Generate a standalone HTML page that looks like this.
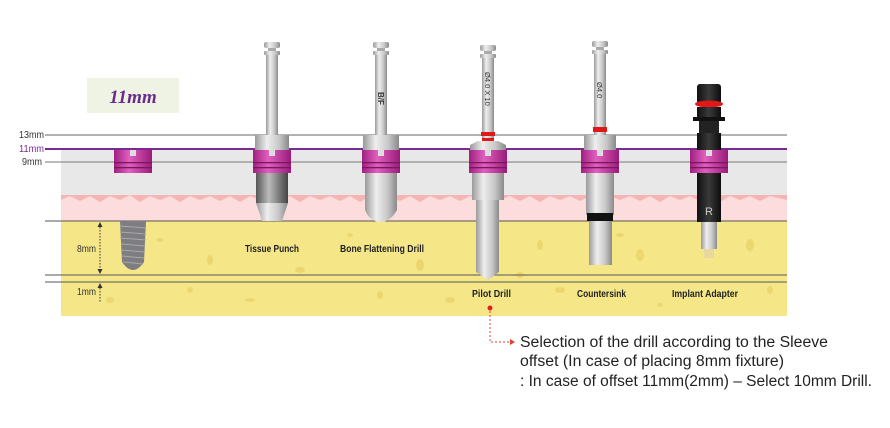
<!DOCTYPE html>
<html><head><meta charset="utf-8"><style>
html,body{margin:0;padding:0;background:#fff;}
svg{display:block;}
.lb{font-family:"Liberation Sans",sans-serif;font-size:10.5px;font-weight:bold;fill:#222;}
.mm{font-family:"Liberation Sans",sans-serif;font-size:10px;fill:#333;}
</style></head><body>
<svg width="890" height="428" viewBox="0 0 890 428" xmlns="http://www.w3.org/2000/svg">
<defs>
<linearGradient id="met" x1="0" x2="1"><stop offset="0" stop-color="#9a9a9a"/><stop offset="0.35" stop-color="#eeeeee"/><stop offset="0.7" stop-color="#c8c8c8"/><stop offset="1" stop-color="#8a8a8a"/></linearGradient>
<linearGradient id="dk" x1="0" x2="1"><stop offset="0" stop-color="#555"/><stop offset="0.4" stop-color="#bbb"/><stop offset="1" stop-color="#444"/></linearGradient>
<linearGradient id="mag" x1="0" x2="1"><stop offset="0" stop-color="#a0207f"/><stop offset="0.4" stop-color="#e060c0"/><stop offset="1" stop-color="#9a1c7a"/></linearGradient>
<linearGradient id="blk" x1="0" x2="1"><stop offset="0" stop-color="#111"/><stop offset="0.5" stop-color="#3a3a3a"/><stop offset="1" stop-color="#0c0c0c"/></linearGradient>
<g id="sleeve">
<rect x="-19" y="0" width="38" height="23" fill="url(#mag)"/>
<rect x="-19" y="12" width="38" height="1.3" fill="#7a1560"/>
<rect x="-19" y="17" width="38" height="1.3" fill="#7a1560"/>
<rect x="-3" y="0" width="6" height="6" fill="#ddd"/>
</g>
<g id="shaft">
<rect x="-8" y="0" width="16" height="6" rx="2" fill="url(#met)"/>
<rect x="-4" y="6" width="8" height="3" fill="#aaa"/>
<rect x="-8" y="9" width="16" height="4" rx="1" fill="url(#met)"/>
</g>
</defs>

<rect x="61" y="150" width="726" height="45" fill="#e8e8e8"/>
<rect x="61" y="195" width="726" height="26" fill="#fcdcdc"/>
<path d="M61 200 L70 196 L80 201 L90 196 L100 202 L110 196 L120 200 L130 195 L140 202 L150 196 L160 200 L170 196 L180 202 L190 196 L200 200 L210 196 L220 201 L230 196 L240 202 L250 196 L260 200 L270 196 L280 201 L290 196 L300 202 L310 196 L320 200 L330 196 L340 201 L350 196 L360 202 L370 196 L380 200 L390 196 L400 201 L410 196 L420 202 L430 196 L440 200 L450 196 L460 201 L470 196 L480 202 L490 196 L500 200 L510 196 L520 201 L530 196 L540 202 L550 196 L560 200 L570 196 L580 201 L590 196 L600 202 L610 196 L620 200 L630 196 L640 201 L650 196 L660 202 L670 196 L680 200 L690 196 L700 201 L710 196 L720 202 L730 196 L740 200 L750 196 L760 201 L770 196 L787 200 L787 195 L61 195Z" fill="#f6b4b4"/>
<rect x="61" y="221" width="726" height="95" fill="#f5e787"/>
<g fill="#ead36a" opacity="0.8">
<ellipse cx="160" cy="240" rx="4" ry="2"/><ellipse cx="210" cy="260" rx="3" ry="5"/><ellipse cx="300" cy="270" rx="5" ry="3"/><ellipse cx="350" cy="235" rx="3" ry="2"/><ellipse cx="420" cy="265" rx="4" ry="6"/><ellipse cx="450" cy="300" rx="5" ry="3"/><ellipse cx="540" cy="245" rx="3" ry="5"/><ellipse cx="560" cy="290" rx="5" ry="3"/><ellipse cx="640" cy="255" rx="4" ry="6"/><ellipse cx="660" cy="305" rx="3" ry="2"/><ellipse cx="750" cy="245" rx="4" ry="6"/><ellipse cx="770" cy="290" rx="3" ry="4"/><ellipse cx="110" cy="300" rx="4" ry="3"/><ellipse cx="250" cy="300" rx="5" ry="2"/><ellipse cx="380" cy="295" rx="3" ry="4"/><ellipse cx="620" cy="235" rx="4" ry="2"/><ellipse cx="190" cy="290" rx="3" ry="3"/><ellipse cx="520" cy="275" rx="4" ry="3"/>
</g>

<line x1="45" y1="135" x2="787" y2="135" stroke="#666" stroke-width="1"/>
<line x1="45" y1="149" x2="787" y2="149" stroke="#7a2a90" stroke-width="2"/>
<line x1="45" y1="162" x2="787" y2="162" stroke="#777" stroke-width="1"/>
<line x1="45" y1="221" x2="787" y2="221" stroke="#555" stroke-width="1"/>
<line x1="45" y1="275" x2="787" y2="275" stroke="#555" stroke-width="1"/>
<line x1="45" y1="282" x2="787" y2="282" stroke="#555" stroke-width="1"/>
<text x="19" y="138" class="mm" textLength="25" lengthAdjust="spacingAndGlyphs">13mm</text>
<text x="19" y="152" class="mm" style="fill:#7a2a90" textLength="25" lengthAdjust="spacingAndGlyphs">11mm</text>
<text x="22" y="165" class="mm" textLength="20" lengthAdjust="spacingAndGlyphs">9mm</text>
<line x1="100" y1="224" x2="100" y2="272" stroke="#333" stroke-dasharray="1.5 1.5"/>
<path d="M97.5 227 L100 222 L102.5 227Z M97.5 269 L100 274 L102.5 269Z" fill="#333"/>
<line x1="100" y1="285" x2="100" y2="302" stroke="#333" stroke-dasharray="1.5 1.5"/>
<path d="M97.5 288 L100 283 L102.5 288Z" fill="#333"/>
<text x="77" y="252" class="mm" textLength="19" lengthAdjust="spacingAndGlyphs">8mm</text>
<text x="77" y="295" class="mm" textLength="19" lengthAdjust="spacingAndGlyphs">1mm</text>

<rect x="87" y="78" width="92" height="35" fill="#eff3e4"/>
<text x="133" y="103" text-anchor="middle" font-family="Liberation Serif,serif" font-style="italic" font-weight="bold" font-size="19" fill="#6a2d8a">11mm</text>

<use href="#sleeve" x="133" y="150"/>
<path d="M120 221 L146 221 L144 262 Q133 278 122 262Z" fill="#7d7d82"/>
<g stroke="#aaa" stroke-width="1"><line x1="120" y1="226" x2="146" y2="228"/><line x1="120" y1="232" x2="146" y2="234"/><line x1="120" y1="238" x2="146" y2="240"/><line x1="121" y1="244" x2="145" y2="246"/><line x1="121" y1="250" x2="145" y2="252"/><line x1="122" y1="256" x2="144" y2="258"/><line x1="123" y1="262" x2="143" y2="264"/></g>

<use href="#shaft" x="272" y="42"/>
<rect x="266" y="55" width="12" height="80" fill="url(#met)"/>
<rect x="255" y="135" width="34" height="15" fill="url(#met)"/>
<use href="#sleeve" x="272" y="150"/>
<rect x="256" y="173" width="32" height="30" fill="url(#dk)"/>
<path d="M256 203 L288 203 L282 221 L262 221Z" fill="url(#met)"/>
<text x="245" y="252" class="lb" textLength="54" lengthAdjust="spacingAndGlyphs">Tissue Punch</text>

<use href="#shaft" x="381" y="42"/>
<rect x="375" y="55" width="12" height="80" fill="url(#met)"/>
<text transform="translate(378,92) rotate(90)" font-family="Liberation Sans,sans-serif" font-size="8" font-weight="bold" fill="#333">B/F</text>
<rect x="363" y="135" width="36" height="15" fill="url(#met)"/>
<use href="#sleeve" x="381" y="150"/>
<path d="M365 173 L397 173 L397 210 Q390 222 381 222 Q370 222 365 210Z" fill="url(#met)"/>
<text x="340" y="252" class="lb" textLength="84" lengthAdjust="spacingAndGlyphs">Bone Flattening Drill</text>

<use href="#shaft" x="488" y="45"/>
<rect x="482" y="58" width="12" height="80" fill="url(#met)"/>
<text transform="translate(485,72) rotate(90)" font-family="Liberation Sans,sans-serif" font-size="7.5" fill="#333">Ø4.0 X 10</text>
<rect x="481" y="132" width="14" height="4" fill="#e01818"/>
<rect x="482" y="138" width="12" height="3" fill="#e01818"/>
<path d="M470 145 L478 141 L498 141 L506 145 L506 150 L470 150Z" fill="url(#met)"/>
<use href="#sleeve" x="488" y="150"/>
<rect x="472" y="173" width="32" height="27" fill="url(#met)"/>
<path d="M476 200 L499 200 L499 272 L488 280 L476 272Z" fill="url(#met)"/>
<text x="472" y="297" class="lb" textLength="39" lengthAdjust="spacingAndGlyphs">Pilot Drill</text>

<use href="#shaft" x="600" y="41"/>
<rect x="594" y="54" width="12" height="81" fill="url(#met)"/>
<text transform="translate(597,82) rotate(90)" font-family="Liberation Sans,sans-serif" font-size="7.5" fill="#333">Ø4.0</text>
<rect x="593" y="127" width="14" height="5" fill="#e01818"/>
<rect x="584" y="135" width="32" height="15" fill="url(#met)"/>
<use href="#sleeve" x="600" y="150"/>
<rect x="586" y="173" width="28" height="42" fill="url(#met)"/>
<rect x="587" y="213" width="26" height="8" fill="#111"/>
<rect x="589" y="221" width="23" height="44" fill="url(#met)"/>
<text x="577" y="297" class="lb" textLength="49" lengthAdjust="spacingAndGlyphs">Countersink</text>

<rect x="697" y="84" width="24" height="20" rx="3" fill="url(#blk)"/>
<ellipse cx="709" cy="104" rx="14" ry="3.5" fill="#e01818"/>
<rect x="697" y="107" width="24" height="12" fill="url(#blk)"/>
<rect x="693" y="117" width="32" height="4" fill="#111"/>
<rect x="699" y="121" width="20" height="12" fill="#222"/>
<rect x="697" y="133" width="24" height="17" fill="url(#blk)"/>
<use href="#sleeve" x="709" y="150"/>
<rect x="697" y="173" width="24" height="49" fill="url(#blk)"/>
<text x="709" y="215" text-anchor="middle" font-family="Liberation Sans,sans-serif" font-size="11" fill="#ccc">R</text>
<rect x="701" y="222" width="16" height="27" fill="url(#met)"/>
<rect x="704" y="249" width="10" height="9" fill="#e8d8a0"/>
<text x="672" y="297" class="lb" textLength="66" lengthAdjust="spacingAndGlyphs">Implant Adapter</text>

<circle cx="490" cy="308" r="2.5" fill="#e02020"/>
<path d="M490 311 L490 342 L510 342" fill="none" stroke="#e04030" stroke-width="1" stroke-dasharray="2 2"/>
<path d="M510 339 L515 342 L510 345Z" fill="#e04030"/>
<g font-family="Liberation Sans,sans-serif" font-size="15.5" fill="#222">
<text x="520" y="347" textLength="308" lengthAdjust="spacingAndGlyphs">Selection of the drill according to the Sleeve</text>
<text x="520" y="366" textLength="264" lengthAdjust="spacingAndGlyphs">offset (In case of placing 8mm fixture)</text>
<text x="520" y="386" textLength="352" lengthAdjust="spacingAndGlyphs">: In case of offset 11mm(2mm) – Select 10mm Drill.</text>
</g>
</svg>
</body></html>
